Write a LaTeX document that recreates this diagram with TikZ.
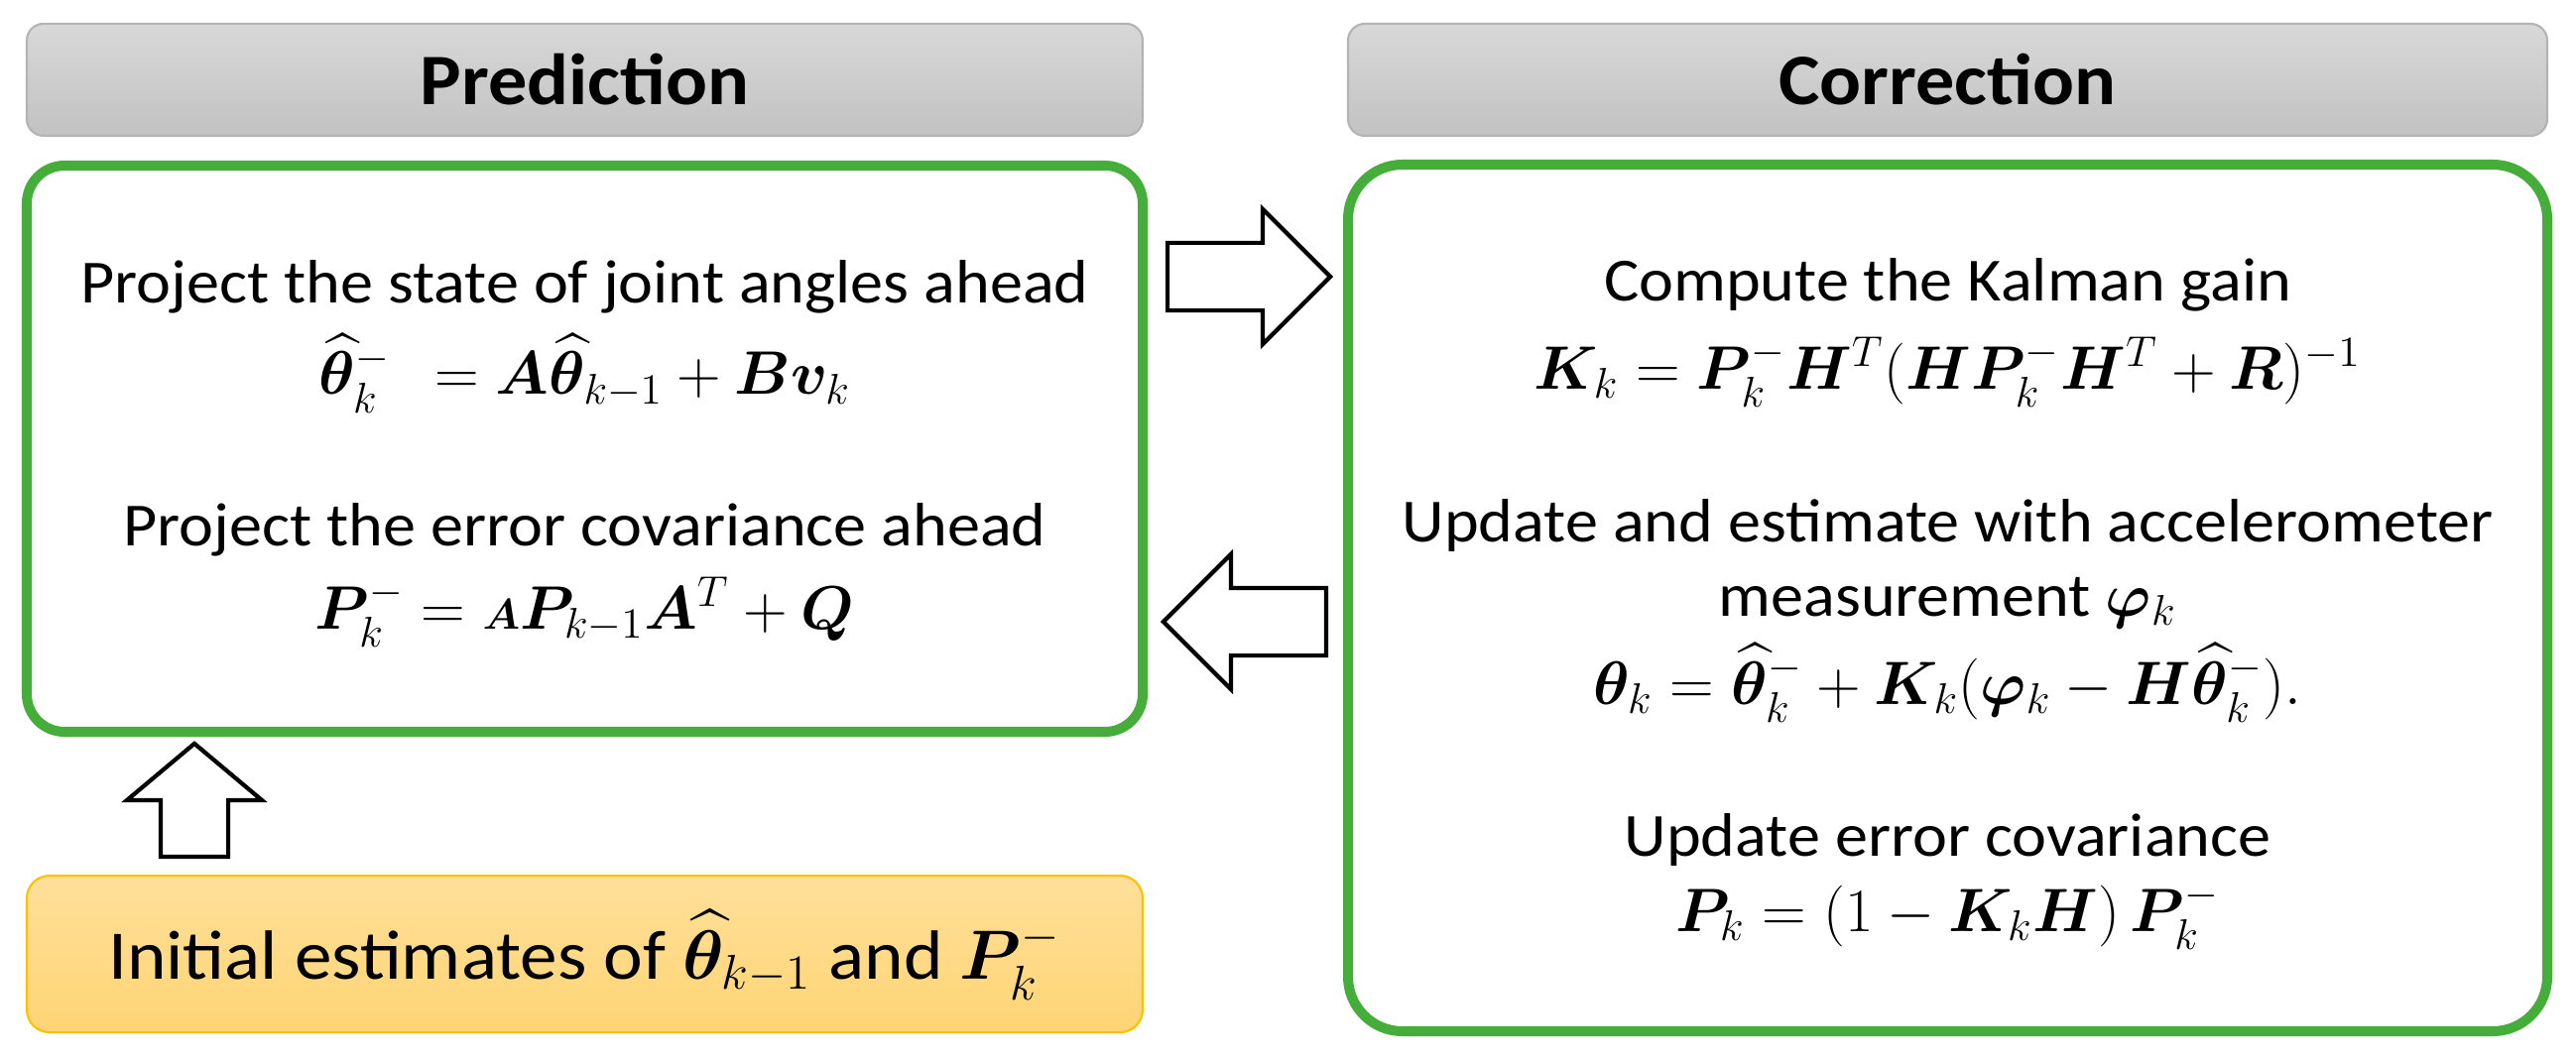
\documentclass[tikz,border=0pt]{standalone}
\usepackage{fix-cm}
\usepackage[no-math]{fontspec}
\setmainfont{Carlito}[FakeStretch=1.07]
\usepackage{amsmath,amssymb,bm}
\usepackage{tikz}
\usetikzlibrary{positioning,shapes.arrows,calc}
\definecolor{kfgreen}{HTML}{45AE3A}
\definecolor{hdrtop}{HTML}{D8D8D8}
\definecolor{hdrbot}{HTML}{C2C2C2}
\definecolor{hdrline}{HTML}{B4B4B4}
\definecolor{seedtop}{HTML}{FFE09A}
\definecolor{seedbot}{HTML}{FFD474}
\definecolor{seedline}{HTML}{FFC000}
\newcommand{\est}{\widehat{\bm{\theta}}}
\tikzset{
  hdr/.style   = {rectangle, rounded corners=4.8pt, draw=hdrline, line width=0.6pt,
                  top color=hdrtop, bottom color=hdrbot, minimum height=1.13cm,
                  font=\fontsize{20.8}{24}\selectfont\bfseries},
  stage/.style = {rectangle, rounded corners=#1, draw=kfgreen, line width=2.85pt,
                  fill=white, inner sep=0pt},
  stage/.default = 10.8pt,
  seed/.style  = {rectangle, rounded corners=6.5pt, draw=seedline, line width=0.6pt,
                  top color=seedtop, bottom color=seedbot, minimum height=1.58cm},
  txt/.style   = {anchor=base, inner sep=0pt, font=\fontsize{17.6}{21}\selectfont},
  blk/.style   = {single arrow, draw=black, fill=white, line width=1.2pt,
                  minimum height=#1, minimum width=1.32cm, inner sep=0.32cm,
                  single arrow head extend=0.34cm, anchor=tail},
  blk/.default = 1.64cm,
}

\begin{document}
\begin{tikzpicture}
  \useasboundingbox (0,0) rectangle (25.97,10.70);
  % the two stages
  \node[stage, minimum width=11.25cm, minimum height=5.71cm] (pred) at (5.895,6.175) {};
  \node[stage=15.6pt, minimum width=12.09cm, minimum height=8.74cm] (corr) at (19.635,4.67) {};
  \node[hdr, minimum width=11.25cm, above=2.4mm of pred] (predhdr) {Prediction};
  \node[hdr, minimum width=12.09cm] (corrhdr) at (19.635,9.895) {Correction};
  \node[seed, minimum width=11.25cm, below=13.9mm of pred] (init) {};

  % prediction text
  \node[txt] (projx) at (5.895,7.64) {Project the state of joint angles ahead};
  \node[txt] (eqx) at (5.895,6.72) {$\est_k^{-}\;\,= \bm{A}\est_{k-1} + \bm{B}\bm{v}_k$};
  \node[txt] (projp) at (5.895,5.20) {Project the error covariance ahead};
  \node[txt] (eqp) at (5.895,4.36) {$\bm{P}_k^{-} = {\scriptstyle\bm{A}}\bm{P}_{k-1}\bm{A}^T + \bm{Q}$};

  % correction text
  \node[txt] (gain) at (19.635,7.66) {Compute the Kalman gain};
  \node[txt] (eqk) at (19.635,6.78) {$\bm{K}_k = \bm{P}_k^{-}\bm{H}^T(\bm{H}\bm{P}_k^{-}\bm{H}^T + \bm{R})^{-1}$};
  \node[txt] (upd) at (19.635,5.24) {Update and estimate with accelerometer};
  \node[txt] (meas) at (19.635,4.49) {measurement $\bm{\varphi}_k$};
  \node[txt] (eqth) at (19.635,3.60) {$\bm{\theta}_k = \est_k^{-} + \bm{K}_k(\bm{\varphi}_k - \bm{H}\est_k^{-}).$};
  \node[txt] (updp) at (19.635,2.07) {Update error covariance};
  \node[txt] (eqpk) at (19.635,1.31) {$\bm{P}_k = (1 - \bm{K}_k\bm{H})\,\bm{P}_k^{-}$};

  \node[txt, font=\fontsize{20}{24}\selectfont] (inittxt) at (5.895,0.83)
    {Initial estimates of $\est_{k-1}$ and $\bm{P}_k^{-}$};

  % block arrows between the boxes
  \node[blk] (tocorr) at (11.75,7.91) {};
  \node[blk, shape border rotate=180] (topred) at (13.39,4.43) {};
  \node[blk=1.14cm, single arrow tip angle=100, shape border rotate=90] (toinit) at (1.96,2.04) {};
\end{tikzpicture}
\end{document}
